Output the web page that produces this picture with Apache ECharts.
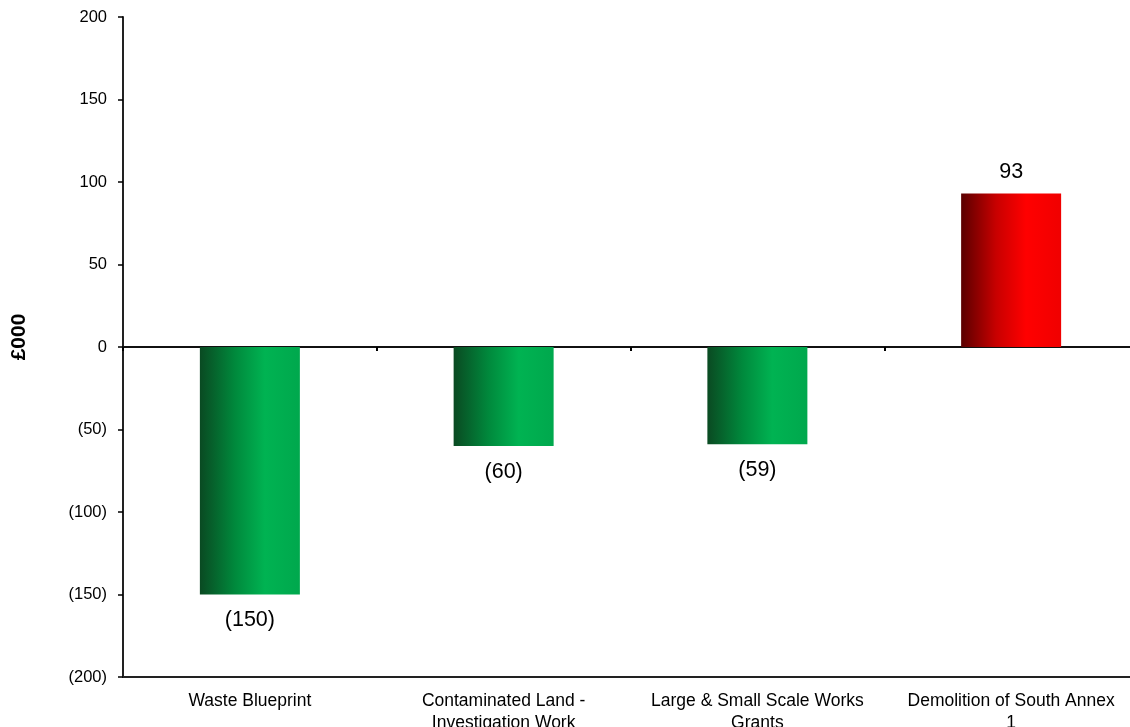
<!DOCTYPE html>
<html>
<head>
<meta charset="utf-8">
<script src="https://cdn.jsdelivr.net/npm/echarts@6/dist/echarts.min.js"></script>
<style>html,body{margin:0;padding:0;background:#fff;overflow:hidden;width:1130px;height:727px}#c{width:1138px;height:727px}</style>
</head>
<body>
<div id="c"></div>
<script>
var categories = ["Waste Blueprint", "Contaminated Land -\nInvestigation Work", "Large & Small Scale Works\nGrants", "Demolition of South Annex\n1"];
var values = [-150, -60, -59, 93];
var yTicks = {min: -200, max: 200, interval: 50};

function fmt(v){ return v < 0 ? '(' + Math.abs(v) + ')' : String(v); }

var green = {type:'linear',x:0,y:0,x2:1,y2:0,colorStops:[
  {offset:0,color:'#0a4a22'},{offset:0.35,color:'#00893c'},{offset:0.65,color:'#00b352'},{offset:1,color:'#00a84d'}]};
var red = {type:'linear',x:0,y:0,x2:1,y2:0,colorStops:[
  {offset:0,color:'#5a0000'},{offset:0.35,color:'#c80000'},{offset:0.65,color:'#ff0000'},{offset:1,color:'#f00000'}]};

var chart = echarts.init(document.getElementById('c'));
chart.setOption({
  animation:false,
  textStyle:{fontFamily:'Liberation Sans, Arial, sans-serif'},
  grid:{left:123,right:0,top:17,bottom:50,containLabel:false,outerBoundsMode:'none'},
  xAxis:[{
    type:'category', data:categories, position:'bottom',
    axisLine:{onZero:false,lineStyle:{color:'#222',width:2}},
    axisTick:{show:false},
    axisLabel:{color:'#000',fontSize:17.5,lineHeight:22,margin:13,interval:0}
  },{
    type:'category', data:categories, position:'bottom',
    axisLine:{onZero:true,lineStyle:{color:'#111',width:2}},
    axisTick:{show:true,inside:false,length:4,lineStyle:{color:'#000',width:2}},
    axisLabel:{show:false}
  }],
  yAxis:{
    type:'value', min:yTicks.min, max:yTicks.max, interval:yTicks.interval,
    name:'£000', nameLocation:'middle', nameGap:93, nameRotate:90,
    nameTextStyle:{fontWeight:'bold',fontSize:21,color:'#000',padding:[0,0,0,20]},
    axisLine:{show:true,lineStyle:{color:'#222',width:2}},
    axisTick:{show:true,length:5,lineStyle:{color:'#000',width:1.5}},
    splitLine:{show:false},
    axisLabel:{color:'#000',fontSize:16.5,margin:16,formatter:fmt}
  },
  series:[{
    type:'bar', barWidth:100, xAxisIndex:0,
    data: values.map(function(v){
      return {value:v, itemStyle:{color: v<0?green:red},
        label:{position: v<0?'bottom':'top', distance: v<0?15:10}};
    }),
    label:{show:true,fontSize:21.5,color:'#000',formatter:function(p){return fmt(p.value);}}
  }]
});
</script>
</body>
</html>
